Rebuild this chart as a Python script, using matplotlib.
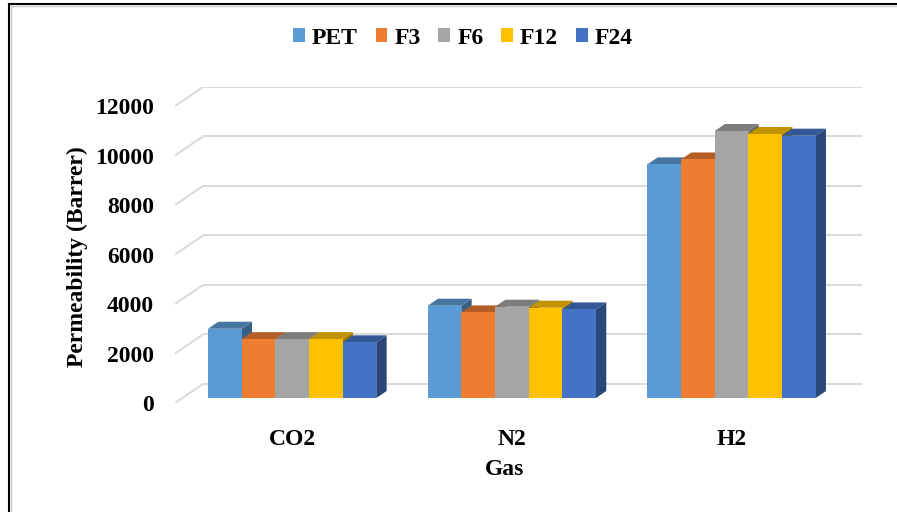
import matplotlib
matplotlib.use("Agg")
import matplotlib.pyplot as plt
from matplotlib.patches import Polygon, Rectangle
from matplotlib.lines import Line2D
from matplotlib.colors import to_rgb

# ---- data -------------------------------------------------------------
gases = ["CO2", "N2", "H2"]
series = ["PET", "F3", "F6", "F12", "F24"]
pet = [2800, 3730, 9440]
f3 = [2380, 3460, 9640]
f6 = [2380, 3690, 10790]
f12 = [2380, 3650, 10670]
f24 = [2250, 3580, 10600]
values = [pet, f3, f6, f12, f24]
colors = ["#5B9BD5", "#ED7D31", "#A5A5A5", "#FFC000", "#4472C4"]
yticks = [0, 2000, 4000, 6000, 8000, 10000, 12000]

# ---- oblique 3-D geometry (in data units) ----------------------------
DX, DY = 0.1275, 768          # depth of floor / back wall
FRONT = 0.26                  # front face of the bars, as fraction of depth
BDEPTH = 0.37                 # bar depth, as fraction of depth
GAP = 0.117                   # gap on each side of a group within a category
W = (1 - 2 * GAP) / len(series)

plt.rcParams["font.family"] = ["Liberation Serif", "DejaVu Serif"]
plt.rcParams["font.weight"] = "bold"
FS = 17

fig = plt.figure(figsize=(8.97, 5.12), dpi=100)
W_PX, H_PX = 897, 512
left, right, bottom, top = 175, 862, 403, 87
ax = fig.add_axes([left / W_PX, 1 - bottom / H_PX,
                   (right - left) / W_PX, (bottom - top) / H_PX])
ax.set_xlim(0, len(gases) + DX)
ax.set_ylim(0, yticks[-1] + DY)
for s in ax.spines.values():
    s.set_visible(False)

# gridlines on side and back walls
grid_c = "#D9D9D9"
for v in yticks:
    ax.plot([0, DX], [v, v + DY], color=grid_c, lw=1.4, zorder=1,
            solid_capstyle="butt")
    ax.plot([DX, len(gases) + DX], [v + DY, v + DY], color=grid_c, lw=1.4,
            zorder=1, solid_capstyle="butt")


def shade(c, k):
    r, g, b = to_rgb(c)
    return (r * k, g * k, b * k)


ox, oy = FRONT * DX, FRONT * DY        # offset of bar fronts
bx, by = BDEPTH * DX, BDEPTH * DY      # bar depth offsets
for j, (vals, c) in enumerate(zip(values, colors)):
    xs = [i + GAP + j * W + ox for i in range(len(gases))]
    z = 3 + j
    ax.bar(xs, vals, width=W, bottom=oy, align="edge", color=c,
           linewidth=0, zorder=z + 0.2, label=series[j])
    for x, v in zip(xs, vals):
        t = oy + v
        side = Polygon([(x + W, oy), (x + W, t), (x + W + bx, t + by),
                        (x + W + bx, oy + by)], closed=True,
                       facecolor=shade(c, 0.62), lw=0, zorder=z)
        topf = Polygon([(x, t), (x + W, t), (x + W + bx, t + by),
                        (x + bx, t + by)], closed=True,
                       facecolor=shade(c, 0.76), lw=0, zorder=z + 0.1)
        ax.add_patch(side)
        ax.add_patch(topf)

ax.set_yticks(yticks)
ax.set_yticklabels([str(v) for v in yticks], fontsize=FS, fontweight="bold")
ax.set_xticks([i + 0.5 + ox for i in range(len(gases))])
ax.set_xticklabels(gases, fontsize=FS, fontweight="bold")
ax.tick_params(axis="y", length=0, pad=15)
ax.tick_params(axis="x", length=0, pad=19)

ax.set_xlabel("Gas", fontsize=FS, fontweight="bold", labelpad=6)
ax.set_ylabel("Permeability (Barrer)", fontsize=FS, fontweight="bold",
              labelpad=5)
ax.xaxis.label.set_x(0.48)
ax.yaxis.label.set_y(0.462)

handles = [Rectangle((0, 0), 1, 1, facecolor=c, lw=0) for c in colors]
fig.legend(handles, series, loc="center", ncol=5,
           bbox_to_anchor=(463 / W_PX, 1 - 38 / H_PX), frameon=False,
           prop={"size": FS, "weight": "bold"}, handlelength=0.5,
           handleheight=0.5, handletextpad=0.3, columnspacing=0.75)

# chart-area border (top and left edges)
fig.add_artist(Line2D([8.5 / W_PX, 8.5 / W_PX], [0, 1 - 3.5 / H_PX],
                      color="black", lw=1.5, transform=fig.transFigure))
fig.add_artist(Line2D([8.5 / W_PX, 1], [1 - 3.5 / H_PX, 1 - 3.5 / H_PX],
                      color="black", lw=1.5, transform=fig.transFigure))
fig.add_artist(Line2D([10.5 / W_PX, 10.5 / W_PX], [0, 1 - 5.5 / H_PX],
                      color="#C8C8C8", lw=1, transform=fig.transFigure))
fig.add_artist(Line2D([10.5 / W_PX, 1], [1 - 5.5 / H_PX, 1 - 5.5 / H_PX],
                      color="#C8C8C8", lw=1, transform=fig.transFigure))

fig.savefig("out.png", dpi=100)
